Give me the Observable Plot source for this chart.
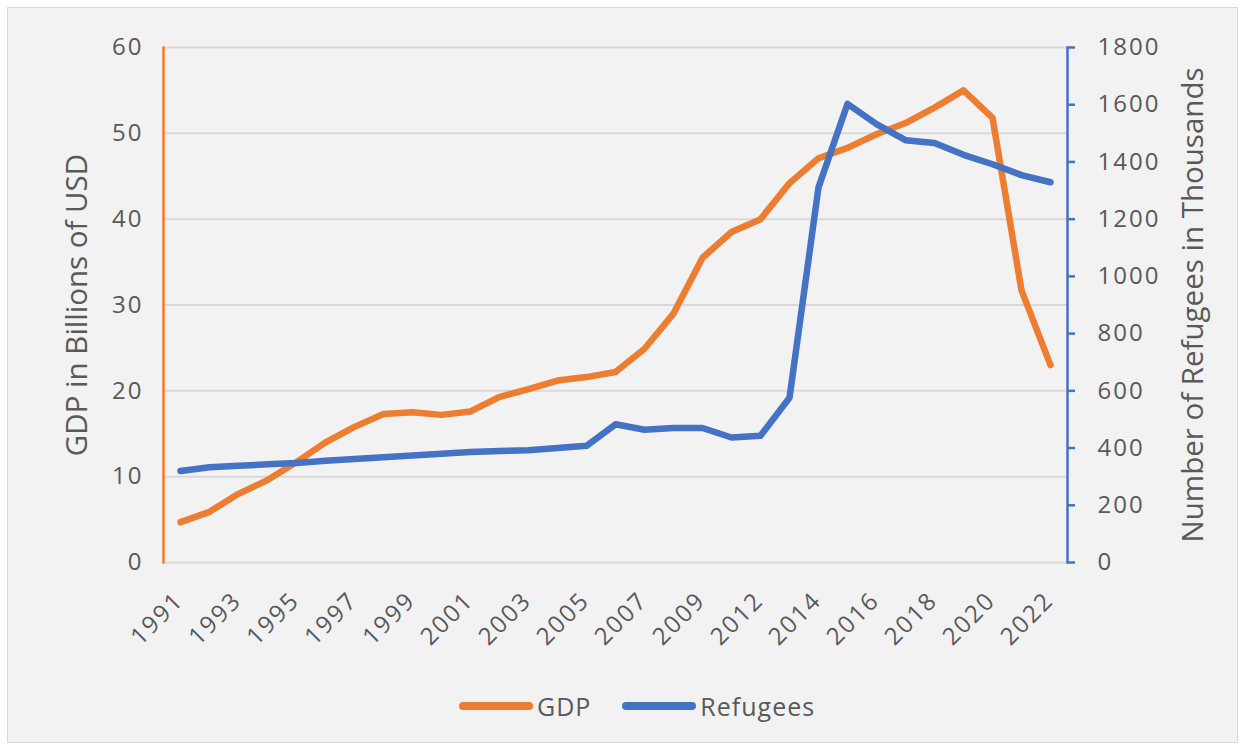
<!DOCTYPE html>
<html><head><meta charset="utf-8">
<script src="https://cdn.jsdelivr.net/npm/d3@7"></script>
<script src="https://cdn.jsdelivr.net/npm/@observablehq/plot@0.6"></script>
<style>
html,body{margin:0;padding:0;background:#fff;width:1243px;height:751px;overflow:hidden;}
#card{position:absolute;left:7px;top:7px;width:1231px;height:736px;background:#f2f2f2;border:1.5px solid #d9d9d9;box-sizing:border-box;}
#chart{position:absolute;left:0;top:0;}
#chart g[aria-label$="tick label"] text{letter-spacing:2px;}
#legend{position:absolute;top:691px;left:459px;display:flex;align-items:center;font-family:'Open Sans',sans-serif;font-size:25px;letter-spacing:1px;color:#595959;height:30px;}
.sw{width:74px;height:7.5px;border-radius:4px;margin-right:4px;}
.item{display:flex;align-items:center;margin-right:31px;}
</style></head>
<body>
<div id="card"></div>
<div id="chart"></div>
<div id="legend"></div>
<script>
const years = ["1991","1992","1993","1994","1995","1996","1997","1998","1999","2000","2001","2002","2003","2004","2005","2006","2007","2008","2009","2010","2012","2013","2014","2015","2016","2017","2018","2019","2020","2021","2022"];
const gdp = [4.7,5.9,8.0,9.6,11.7,14.0,15.8,17.3,17.5,17.2,17.6,19.3,20.2,21.2,21.6,22.2,24.9,29.0,35.5,38.5,40.0,44.2,47.1,48.3,49.9,51.2,53.0,55.0,51.8,31.7,23.0];
const refugees = [320,333,338,343,348,356,362,368,374,380,386,390,392,400,408,483,464,470,470,437,443,576,1311,1603,1532,1476,1466,1425,1392,1354,1329];
const gdpTicks = [0,10,20,30,40,50,60];
const refTicks = [0,200,400,600,800,1000,1200,1400,1600,1800];
const xTickLabels = years.filter((d,i)=>i%2===0);
const seriesNames = ["GDP","Refugees"];
const orange = "#ED7D31", blue = "#4472C4";
const ratio = 1800/60;

const table = years.map((year,i)=>({year, gdp: gdp[i], refugees: refugees[i]}));
const lineStyle = {strokeWidth: 6.5, strokeLinecap: "round", strokeLinejoin: "round"};

const chart = Plot.plot({
  width: 1243, height: 670,
  marginLeft: 163, marginRight: 176, marginTop: 47, marginBottom: 108,
  style: {background: "transparent", fontFamily: "'Open Sans', sans-serif", color: "#595959", overflow: "visible"},
  x: {type: "point", domain: years, padding: 0.5, align: 0.5},
  y: {domain: [0, 60]},
  marks: [
    Plot.gridY(gdpTicks, {stroke: "#d9d9d9", strokeOpacity: 1, strokeWidth: 2}),
    Plot.frame({anchor: "left", stroke: orange, strokeWidth: 2.5}),
    Plot.frame({anchor: "right", stroke: blue, strokeWidth: 2.5}),
    Plot.axisY(gdpTicks, {anchor: "left", tickSize: 0, tickPadding: 20, fontSize: 24, fill: "#595959", label: null}),
    Plot.axisY(refTicks.map(v => v/ratio), {anchor: "right", tickSize: 7, stroke: blue, strokeWidth: 2.5, tickPadding: 23, fontSize: 24, fill: "#595959", tickFormat: v => String(Math.round(v*ratio)), label: null}),
    Plot.axisX(xTickLabels, {tickSize: 0, tickRotate: -45, tickPadding: 34, dx: -1, fontSize: 24, fill: "#595959", label: null}),
    Plot.line(table, {x: "year", y: "gdp", stroke: orange, ...lineStyle}),
    Plot.line(table, {x: "year", y: d => d.refugees/ratio, stroke: blue, ...lineStyle}),
    Plot.text(["GDP in Billions of USD"], {frameAnchor: "left", dx: -86, rotate: -90, textAnchor: "middle", fontSize: 29.5, fill: "#595959"}),
    Plot.text(["Number of Refugees in Thousands"], {frameAnchor: "right", dx: 126, rotate: -90, textAnchor: "middle", fontSize: 29.5, fill: "#595959"})
  ]
});
document.getElementById("chart").appendChild(chart);

const legend = document.getElementById("legend");
[[seriesNames[0], orange],[seriesNames[1], blue]].forEach(([name,color])=>{
  const it = document.createElement("div"); it.className="item";
  const sw = document.createElement("div"); sw.className="sw"; sw.style.background=color;
  const tx = document.createElement("span"); tx.textContent=name;
  it.appendChild(sw); it.appendChild(tx); legend.appendChild(it);
});
</script>
</body></html>
